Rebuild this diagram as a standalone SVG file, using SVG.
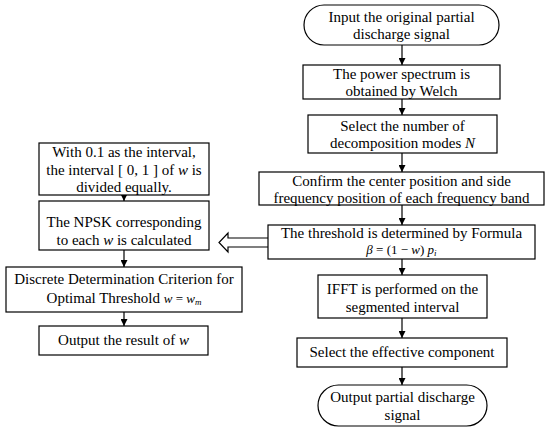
<svg xmlns="http://www.w3.org/2000/svg" width="550" height="433" viewBox="0 0 550 433">
<style>
.b{fill:#fff;stroke:#000;stroke-width:1.2}
text{font-family:"Liberation Serif","Times New Roman",serif;font-size:15px;fill:#000;text-anchor:middle}
.i{font-style:italic}
.f{font-size:13px}
.c{stroke:#000;stroke-width:1.2;fill:none}
</style>
<defs>
<marker id="ah" viewBox="0 0 10 10" refX="10" refY="5" markerWidth="7" markerHeight="7" markerUnits="userSpaceOnUse" orient="auto">
<path d="M0,0 L10,5 L0,10 Z" fill="#000"/>
</marker>
</defs>
<rect width="550" height="433" fill="#fff"/>
<g id="connectors">
<line class="c" x1="402" y1="45" x2="402" y2="65" marker-end="url(#ah)"/>
<line class="c" x1="402" y1="99" x2="402" y2="115" marker-end="url(#ah)"/>
<line class="c" x1="402" y1="153" x2="402" y2="172" marker-end="url(#ah)"/>
<line class="c" x1="402" y1="205" x2="402" y2="225" marker-end="url(#ah)"/>
<line class="c" x1="402" y1="259" x2="402" y2="275" marker-end="url(#ah)"/>
<line class="c" x1="402" y1="318" x2="402" y2="338" marker-end="url(#ah)"/>
<line class="c" x1="402" y1="367" x2="402" y2="385" marker-end="url(#ah)"/>
<line class="c" x1="124" y1="195" x2="124" y2="201" marker-end="url(#ah)"/>
<line class="c" x1="124" y1="250" x2="124" y2="267" marker-end="url(#ah)"/>
<line class="c" x1="124" y1="312" x2="124" y2="326" marker-end="url(#ah)"/>
<path d="M268,238 L228,238 L228,233 L219,242.5 L228,252 L228,247 L268,247" fill="#fff" stroke="#000" stroke-width="1.2"/>
</g>
<g id="start">
<rect class="b" x="304" y="5" width="195" height="40" rx="20" ry="20"/>
<text x="401.5" y="22">Input the original partial</text>
<text x="401.5" y="39">discharge signal</text>
</g>
<g id="welch">
<rect class="b" x="303" y="65" width="197" height="34"/>
<text x="401.5" y="79">The power spectrum is</text>
<text x="401.5" y="96">obtained by Welch</text>
</g>
<g id="modes">
<rect class="b" x="308" y="115" width="189" height="38"/>
<text x="402.5" y="131">Select the number of</text>
<text x="402.5" y="148">decomposition modes <tspan class="i">N</tspan></text>
</g>
<g id="position">
<rect class="b" x="259" y="172" width="285" height="33"/>
<text x="401.5" y="186">Confirm the center position and side</text>
<text x="401.5" y="203">frequency position of each frequency band</text>
</g>
<g id="threshold">
<rect class="b" x="268" y="225" width="267" height="34"/>
<text x="401.5" y="238">The threshold is determined by Formula</text>
<text class="f" x="401.5" y="254"><tspan class="i">β</tspan> = (1 − <tspan class="i">w</tspan>) <tspan class="i">p<tspan font-size="9" dy="2">i</tspan></tspan></text>
</g>
<g id="ifft">
<rect class="b" x="318" y="275" width="169" height="43"/>
<text x="402.5" y="294">IFFT is performed on the</text>
<text x="402.5" y="312">segmented interval</text>
</g>
<g id="select">
<rect class="b" x="297" y="338" width="210" height="29"/>
<text x="402" y="357">Select the effective component</text>
</g>
<g id="end">
<rect class="b" x="318" y="385" width="169" height="41" rx="20.5" ry="20.5"/>
<text x="402.5" y="402">Output partial discharge</text>
<text x="402.5" y="420">signal</text>
</g>
<g id="interval">
<rect class="b" x="39" y="143" width="170" height="52"/>
<text x="124" y="157">With 0.1 as the interval,</text>
<text x="124" y="175">the interval [ 0, 1 ] of <tspan class="i">w</tspan> is</text>
<text x="124" y="192">divided equally.</text>
</g>
<g id="npsk">
<rect class="b" x="39" y="201" width="170" height="49"/>
<text x="124" y="227">The NPSK corresponding</text>
<text x="124" y="245">to each <tspan class="i">w</tspan> is calculated</text>
</g>
<g id="criterion">
<rect class="b" x="6" y="267" width="236" height="45"/>
<text x="124" y="284">Discrete Determination Criterion for</text>
<text x="124" y="303">Optimal Threshold  <tspan class="i f">w</tspan><tspan class="f"> = </tspan><tspan class="i f">w<tspan font-size="9" dy="2">m</tspan></tspan></text>
</g>
<g id="output">
<rect class="b" x="39" y="326" width="169" height="29"/>
<text x="123.5" y="345">Output the result of <tspan class="i">w</tspan></text>
</g>
</svg>
